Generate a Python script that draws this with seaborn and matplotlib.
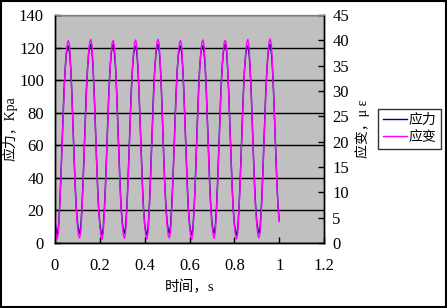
import matplotlib
matplotlib.use("Agg")
import matplotlib.pyplot as plt
import seaborn as sns
import pandas as pd
from matplotlib.patches import Rectangle

# time axis, s (sampled every 0.005 s)
time_s = [0.000, 0.005, 0.010, 0.015, 0.020, 0.025, 0.030, 0.035, 0.040, 0.045,
          0.050, 0.055, 0.060, 0.065, 0.070, 0.075, 0.080, 0.085, 0.090, 0.095,
          0.100, 0.105, 0.110, 0.115, 0.120, 0.125, 0.130, 0.135, 0.140, 0.145,
          0.150, 0.155, 0.160, 0.165, 0.170, 0.175, 0.180, 0.185, 0.190, 0.195,
          0.200, 0.205, 0.210, 0.215, 0.220, 0.225, 0.230, 0.235, 0.240, 0.245,
          0.250, 0.255, 0.260, 0.265, 0.270, 0.275, 0.280, 0.285, 0.290, 0.295,
          0.300, 0.305, 0.310, 0.315, 0.320, 0.325, 0.330, 0.335, 0.340, 0.345,
          0.350, 0.355, 0.360, 0.365, 0.370, 0.375, 0.380, 0.385, 0.390, 0.395,
          0.400, 0.405, 0.410, 0.415, 0.420, 0.425, 0.430, 0.435, 0.440, 0.445,
          0.450, 0.455, 0.460, 0.465, 0.470, 0.475, 0.480, 0.485, 0.490, 0.495,
          0.500, 0.505, 0.510, 0.515, 0.520, 0.525, 0.530, 0.535, 0.540, 0.545,
          0.550, 0.555, 0.560, 0.565, 0.570, 0.575, 0.580, 0.585, 0.590, 0.595,
          0.600, 0.605, 0.610, 0.615, 0.620, 0.625, 0.630, 0.635, 0.640, 0.645,
          0.650, 0.655, 0.660, 0.665, 0.670, 0.675, 0.680, 0.685, 0.690, 0.695,
          0.700, 0.705, 0.710, 0.715, 0.720, 0.725, 0.730, 0.735, 0.740, 0.745,
          0.750, 0.755, 0.760, 0.765, 0.770, 0.775, 0.780, 0.785, 0.790, 0.795,
          0.800, 0.805, 0.810, 0.815, 0.820, 0.825, 0.830, 0.835, 0.840, 0.845,
          0.850, 0.855, 0.860, 0.865, 0.870, 0.875, 0.880, 0.885, 0.890, 0.895,
          0.900, 0.905, 0.910, 0.915, 0.920, 0.925, 0.930, 0.935, 0.940, 0.945,
          0.950, 0.955, 0.960, 0.965, 0.970, 0.975, 0.980, 0.985, 0.990, 0.995,
          1.000]

# stress, Kpa (left axis)
stress = [13, 8,
          5, 9, 20, 36, 55, 75, 93, 106, 115, 120, 121, 117, 108, 93, 73, 54, 36, 22, 13, 8,
          6, 10, 21, 37, 56, 76, 94, 107, 116, 121, 122, 118, 107, 92, 72, 53, 35, 21, 12, 7,
          5, 9, 20, 35, 54, 74, 92, 106, 115, 121, 122, 117, 108, 93, 74, 55, 37, 22, 13, 8,
          6, 10, 21, 36, 55, 75, 93, 106, 115, 120, 121, 117, 107, 92, 73, 54, 36, 21, 12, 7,
          5, 9, 20, 37, 56, 76, 94, 107, 116, 121, 122, 118, 108, 93, 72, 53, 35, 22, 13, 8,
          6, 10, 21, 36, 54, 74, 92, 106, 115, 120, 121, 117, 107, 92, 73, 54, 36, 21, 12, 7,
          5, 9, 20, 35, 55, 75, 93, 107, 116, 121, 121, 117, 108, 93, 74, 55, 37, 22, 13, 8,
          6, 10, 21, 37, 56, 76, 94, 107, 116, 121, 122, 118, 107, 92, 72, 53, 35, 21, 12, 7,
          5, 9, 20, 36, 54, 74, 92, 106, 115, 120, 121, 117, 108, 93, 73, 54, 36, 22, 13, 8,
          6, 10, 21, 36, 55, 75, 93, 106, 116, 121, 122, 117, 107, 92, 73, 54, 36, 22, 14]

# strain, micro-strain (right axis)
strain = [3.8, 1.8,
          0.8, 2.0, 6.0, 11.0, 17.0, 23.5, 29.0, 34.0, 37.5, 39.5, 40.0, 39.0, 35.0, 29.5, 23.0, 17.0, 11.0, 6.5, 3.5, 1.5,
          1.0, 2.2, 6.3, 11.3, 17.3, 23.8, 29.3, 34.2, 37.7, 39.7, 40.2, 39.1, 34.8, 29.2, 22.8, 16.8, 10.8, 6.3, 3.3, 1.4,
          0.7, 1.9, 5.9, 10.9, 16.9, 23.4, 28.9, 33.9, 37.4, 39.5, 40.0, 39.0, 35.1, 29.6, 23.1, 17.1, 11.1, 6.6, 3.6, 1.6,
          0.9, 2.1, 6.1, 11.1, 17.1, 23.6, 29.1, 34.1, 37.6, 39.6, 40.1, 38.9, 34.9, 29.4, 22.9, 16.9, 10.9, 6.4, 3.4, 1.5,
          0.8, 2.0, 6.2, 11.2, 17.2, 23.7, 29.2, 34.2, 37.7, 39.7, 40.2, 39.2, 35.0, 29.5, 23.0, 17.0, 11.0, 6.5, 3.5, 1.5,
          1.0, 2.1, 6.0, 11.0, 17.0, 23.5, 29.0, 34.0, 37.5, 39.5, 40.0, 38.9, 34.7, 29.3, 22.8, 16.8, 10.8, 6.3, 3.3, 1.4,
          0.7, 2.0, 6.1, 11.1, 17.1, 23.6, 29.1, 34.1, 37.6, 39.6, 40.1, 39.0, 35.1, 29.6, 23.1, 17.1, 11.1, 6.6, 3.6, 1.6,
          0.9, 2.2, 6.2, 11.2, 17.2, 23.7, 29.2, 34.2, 37.7, 39.7, 40.0, 39.0, 34.8, 29.3, 22.9, 16.9, 10.9, 6.4, 3.4, 1.5,
          0.8, 1.9, 5.9, 10.9, 16.9, 23.4, 28.9, 33.9, 37.4, 39.5, 40.2, 39.1, 35.0, 29.5, 23.0, 17.0, 11.0, 6.5, 3.5, 1.5,
          1.0, 2.1, 6.2, 11.2, 17.2, 23.7, 29.2, 34.2, 37.7, 39.8, 40.3, 39.1, 35.0, 29.5, 23.0, 17.0, 11.2, 6.8, 4.2]

df = pd.DataFrame({"t": time_s, "stress": stress, "strain": strain})

plt.rcParams["font.family"] = ["Liberation Serif", "Noto Sans CJK SC"]
plt.rcParams["axes.unicode_minus"] = False

fig = plt.figure(figsize=(4.47, 3.08), dpi=100)
ax = fig.add_axes([0.123, 0.211, 0.602, 0.74])
ax2 = ax.twinx()

ax.set_facecolor("#C0C0C0")
sns.lineplot(data=df, x="t", y="stress", ax=ax, color="#000080", linewidth=1.0, label="应力", legend=False)
sns.lineplot(data=df, x="t", y="strain", ax=ax2, color="#FF00FF", linewidth=1.0, label="应变", legend=False)

ax.set_xlim(0, 1.2)
ax.set_ylim(0, 140)
ax2.set_ylim(0, 45)
ax.set_xticks([0, 0.2, 0.4, 0.6, 0.8, 1.0, 1.2])
ax.set_xticklabels(["0", "0.2", "0.4", "0.6", "0.8", "1", "1.2"])
ax.set_yticks(range(0, 141, 20))
ax2.set_yticks(range(0, 46, 5))

ax.grid(axis="y", color="black", linewidth=1.0)
ax.set_axisbelow(True)
for a in (ax, ax2):
    a.tick_params(direction="in", length=4, width=1, labelsize=12)
    for side in ("left", "bottom", "right"):
        a.spines[side].set_color("black")
        a.spines[side].set_linewidth(1.0)
    a.spines["top"].set_color("#808080")
ax.tick_params(axis="x", pad=11)
ax.tick_params(axis="y", pad=8)
ax2.tick_params(axis="y", pad=6)

ax.set_xlabel("时间，s", fontsize=10.5, labelpad=4)
ax.set_ylabel("应力，Kpa", fontsize=10, labelpad=1)
ax2.set_ylabel("应变，μ ε", fontsize=10, labelpad=4)

h1, l1 = ax.get_legend_handles_labels()
h2, l2 = ax2.get_legend_handles_labels()
leg = fig.legend(h1 + h2, l1 + l2, loc="center left", bbox_to_anchor=(0.846, 0.581),
                 fontsize=10, frameon=True, fancybox=False, edgecolor="black",
                 handlelength=1.7, handletextpad=0.15, borderpad=0.35, labelspacing=0.3,
                 borderaxespad=0)
leg.get_frame().set_linewidth(1.0)

fig.patches.append(Rectangle((0.003, 0.004), 0.994, 0.992, transform=fig.transFigure,
                             fill=False, edgecolor="black", linewidth=1.5))

fig.savefig("out.png", dpi=100)
